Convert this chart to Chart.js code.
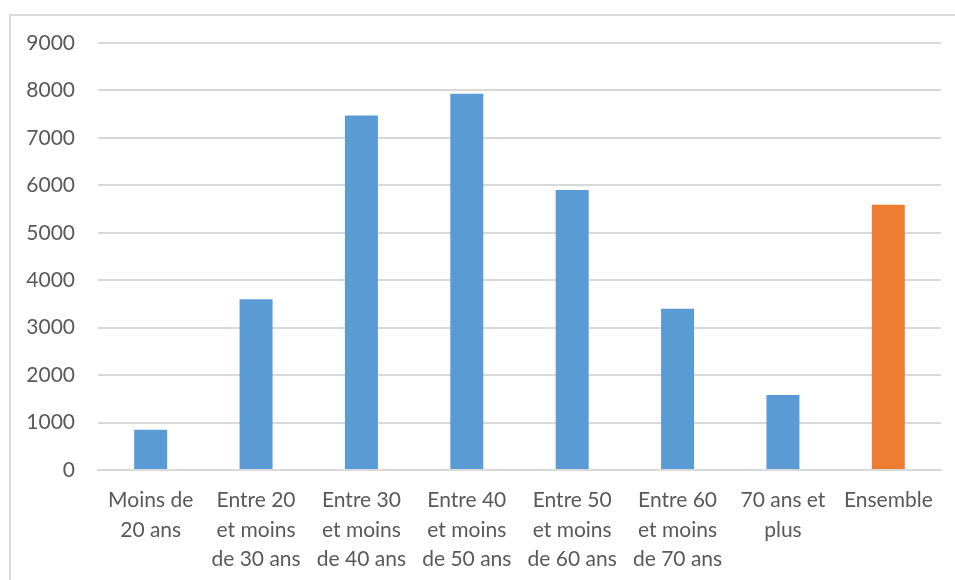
<!DOCTYPE html>
<html>
<head>
<meta charset="utf-8">
<script src="https://cdn.jsdelivr.net/npm/chart.js@4/dist/chart.umd.min.js"></script>
<style>
  html, body { margin: 0; padding: 0; background: #fff; }
  #wrap { position: relative; width: 955px; height: 580px; overflow: hidden; }
  #frame { position: absolute; left: 9px; top: 14px; width: 960px; height: 600px;
           border-left: 2px solid #d9d9d9; border-top: 2px solid #d9d9d9; box-sizing: border-box; }
  canvas { position: absolute; left: 0; top: 0; }
</style>
</head>
<body>
<div id="wrap">
  <div id="frame"></div>
  <canvas id="c" width="955" height="580"></canvas>
</div>
<script>
const categories = [
  ['Moins de', '20 ans'],
  ['Entre 20', 'et moins', 'de 30 ans'],
  ['Entre 30', 'et moins', 'de 40 ans'],
  ['Entre 40', 'et moins', 'de 50 ans'],
  ['Entre 50', 'et moins', 'de 60 ans'],
  ['Entre 60', 'et moins', 'de 70 ans'],
  ['70 ans et', 'plus'],
  ['Ensemble']
];
const values = [850, 3600, 7470, 7930, 5900, 3400, 1580, 5590];
const barColors = ['#5b9bd5', '#5b9bd5', '#5b9bd5', '#5b9bd5', '#5b9bd5', '#5b9bd5', '#5b9bd5', '#ed7d31'];
const yMin = 0, yMax = 9000, yStep = 1000;

new Chart(document.getElementById('c'), {
  type: 'bar',
  data: {
    labels: categories,
    datasets: [{
      data: values,
      backgroundColor: barColors,
      borderWidth: 0,
      categoryPercentage: 1.0,
      barPercentage: 0.313
    }]
  },
  options: {
    responsive: false,
    animation: false,
    devicePixelRatio: 1,
    layout: { padding: { left: 0, right: 14, top: 43, bottom: 0 } },
    plugins: { legend: { display: false }, tooltip: { enabled: false } },
    scales: {
      x: {
        grid: { display: false, drawTicks: false },
        border: { display: true, color: '#d9d9d9', width: 2 },
        ticks: {
          color: '#595959',
          font: { family: 'Lato', size: 21, lineHeight: 1.4 },
          padding: 16,
          maxRotation: 0,
          autoSkip: false
        },
        afterFit: s => { s.height = 110; }
      },
      y: {
        min: yMin, max: yMax,
        grid: { color: '#d9d9d9', lineWidth: 2, drawTicks: false },
        border: { display: false },
        ticks: {
          stepSize: yStep,
          color: '#595959',
          font: { family: 'Lato', size: 21 },
          padding: 23,
          callback: v => String(v)
        },
        afterFit: s => { s.width = 98; }
      }
    }
  }
});
</script>
</body>
</html>
